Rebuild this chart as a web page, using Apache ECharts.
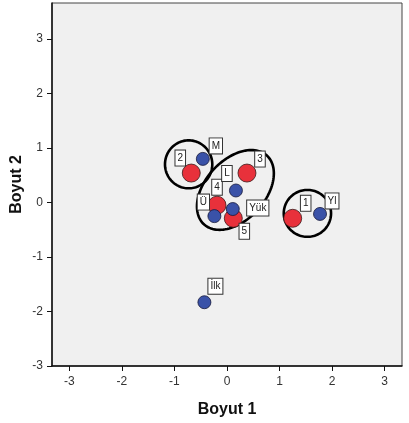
<!DOCTYPE html>
<html>
<head>
<meta charset="utf-8">
<script src="https://cdn.jsdelivr.net/npm/echarts@6/dist/echarts.min.js"></script>
<style>
  html, body { margin: 0; padding: 0; background: #ffffff; }
  #chart { width: 409px; height: 423px; }
</style>
</head>
<body>
<div id="chart"></div>
<script>
// Category points (red) on the two dimensions
const catNames = ['1', '2', '3', '4', '5'];
const catDim1 = [1.25, -0.68, 0.38, -0.19, 0.12];
const catDim2 = [-0.29, 0.54, 0.54, -0.05, -0.29];

// Education level points (blue)
const eduNames = ['İlk', 'M', 'L', 'Ü', 'Yük', 'Yl'];
const eduDim1 = [-0.43, -0.46, 0.17, -0.24, 0.11, 1.77];
const eduDim2 = [-1.83, 0.80, 0.22, -0.25, -0.12, -0.21];

// Group ellipses: centre (dim1, dim2), semi-axes, rotation in degrees
const ellCx = [-0.73, 0.16, 1.53];
const ellCy = [0.70, 0.23, -0.20];
const ellA = [0.45, 0.87, 0.45];
const ellB = [0.44, 0.56, 0.43];
const ellRot = [0, 45, 0];

// Axis tick values
const ticks = [-3, -2, -1, 0, 1, 2, 3];

// Label placement (pixel offsets from each point)
const labelOffsets = {
  '1': [13, -15], '2': [-11, -15], '3': [13, -14], '4': [0, -18], '5': [11, 13],
  'İlk': [11, -16], 'M': [13, -13], 'L': [-9, -17], 'Ü': [-11, -14], 'Yük': [25, -1], 'Yl': [12, -13]
};

const labelStyle = {
  show: true,
  position: 'inside',
  fontFamily: 'Liberation Sans, Arial, sans-serif',
  fontSize: 10,
  color: '#222',
  backgroundColor: '#ffffff',
  borderColor: '#333',
  borderWidth: 1,
  padding: [2, 2, 2, 2],
  lineHeight: 11
};

function points(names, xs, ys) {
  return names.map((n, i) => ({
    name: n,
    value: [xs[i], ys[i]],
    label: Object.assign({}, labelStyle, { formatter: n, offset: labelOffsets[n] })
  }));
}

const ellipseData = ellCx.map((c, i) => [c, ellCy[i], ellA[i], ellB[i], ellRot[i]]);

const chart = echarts.init(document.getElementById('chart'));
const axisFont = { fontFamily: 'Liberation Sans, Arial, sans-serif', fontSize: 12, color: '#333' };
const nameFont = { fontFamily: 'Liberation Sans, Arial, sans-serif', fontSize: 16, fontWeight: 'bold', color: '#111' };

chart.setOption({
  animation: false,
  backgroundColor: '#ffffff',
  grid: {
    left: 52, top: 3, right: 7, bottom: 57,
    outerBoundsMode: 'none', containLabel: false,
    show: true, backgroundColor: '#f0f0f0', borderColor: '#444', borderWidth: 1
  },
  xAxis: {
    type: 'value', min: -3.33, max: 3.33,
    name: 'Boyut 1', nameLocation: 'middle', nameGap: 36, nameMoveOverlap: false, nameTextStyle: nameFont,
    splitLine: { show: false },
    axisLine: { show: true, onZero: false, lineStyle: { color: '#111', width: 1.5 } },
    axisTick: { show: true, inside: false, length: 5, customValues: ticks, lineStyle: { color: '#111' } },
    axisLabel: Object.assign({ customValues: ticks, margin: 10 }, axisFont)
  },
  yAxis: {
    type: 'value', min: -3, max: 3.66,
    name: 'Boyut 2', nameLocation: 'middle', nameGap: 27, nameMoveOverlap: false, nameTextStyle: nameFont,
    splitLine: { show: false },
    axisLine: { show: true, onZero: false, lineStyle: { color: '#111', width: 1.5 } },
    axisTick: { show: true, inside: false, length: 5, customValues: ticks, lineStyle: { color: '#111' } },
    axisLabel: Object.assign({ customValues: ticks, margin: 9 }, axisFont)
  },
  series: [
    {
      type: 'custom',
      z: 2,
      silent: true,
      data: ellipseData,
      encode: { x: 0, y: 1 },
      renderItem: function (params, api) {
        const cx = api.value(0), cy = api.value(1);
        const a = api.value(2), b = api.value(3);
        const r = api.value(4) * Math.PI / 180;
        const pts = [];
        for (let k = 0; k < 120; k++) {
          const t = k / 120 * Math.PI * 2;
          const dx = a * Math.cos(t), dy = b * Math.sin(t);
          pts.push(api.coord([cx + dx * Math.cos(r) - dy * Math.sin(r),
                              cy + dx * Math.sin(r) + dy * Math.cos(r)]));
        }
        return {
          type: 'polygon',
          shape: { points: pts },
          style: { fill: 'none', stroke: '#000', lineWidth: 2.6 }
        };
      }
    },
    {
      type: 'scatter',
      z: 3,
      symbolSize: 18,
      itemStyle: { color: '#e8313b', borderColor: '#3a1a1a', borderWidth: 0.8, opacity: 1 },
      data: points(catNames, catDim1, catDim2)
    },
    {
      type: 'scatter',
      z: 4,
      symbolSize: 13,
      itemStyle: { color: '#3a52a8', borderColor: '#15183a', borderWidth: 0.8, opacity: 1 },
      data: points(eduNames, eduDim1, eduDim2)
    }
  ]
});
</script>
</body>
</html>
